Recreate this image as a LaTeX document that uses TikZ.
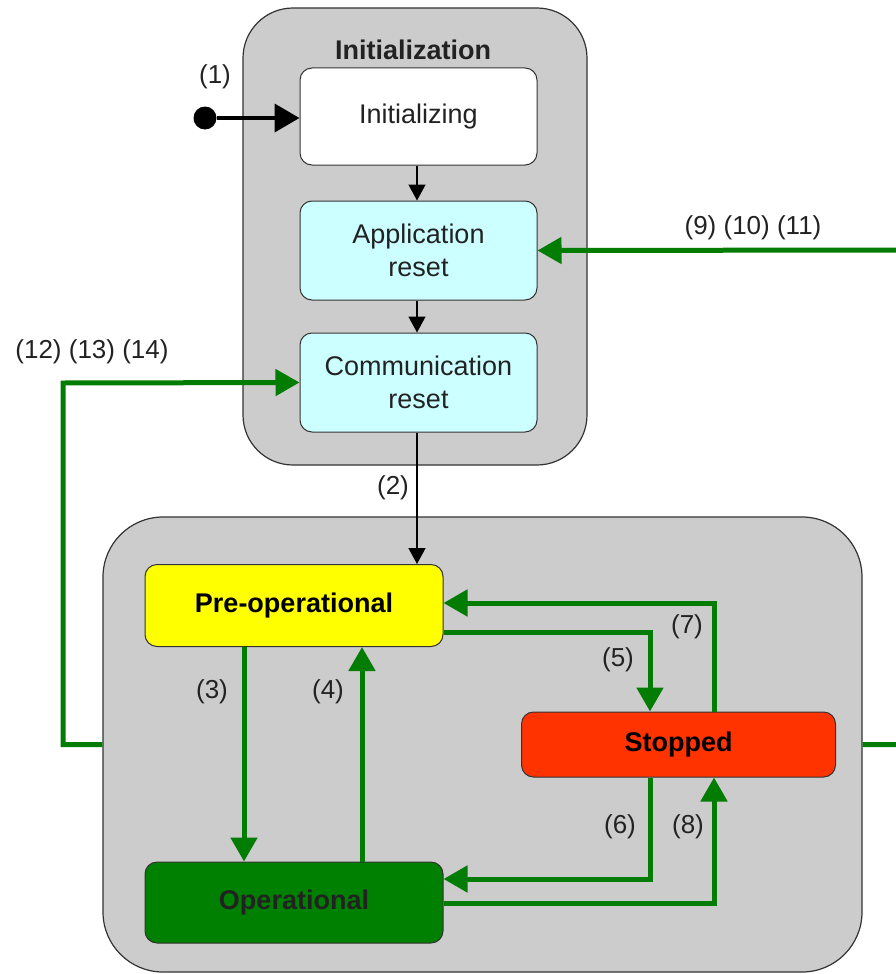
\documentclass[tikz,border=0pt]{standalone}
\usepackage{fontspec}
\setmainfont{Liberation Sans}
\usetikzlibrary{arrows.meta}
\definecolor{cgrey}{HTML}{CCCCCC}
\definecolor{cframe}{HTML}{333333}
\definecolor{ccyan}{HTML}{CCFFFF}
\definecolor{cyellow}{HTML}{FFFF00}
\definecolor{cgreenbox}{HTML}{008000}
\definecolor{cred}{HTML}{FF3300}
\definecolor{carrow}{HTML}{037C03}
\definecolor{ctext}{HTML}{222222}
\begin{document}
\begin{tikzpicture}[x=1pt,y=-1pt,
  container/.style={draw=cframe, line width=1.2pt, fill=cgrey, inner sep=0pt},
  statebox/.style={draw=cframe, line width=1pt, rounded corners=12pt, inner sep=0pt,
    minimum width=237pt, align=center, text=ctext, font=\fontsize{27}{33}\selectfont},
  modebox/.style={draw=cframe, line width=1pt, rounded corners=12pt, inner sep=0pt,
    text=black, font=\fontsize{27}{31}\selectfont\bfseries},
  lbl/.style={text=ctext, font=\fontsize{26}{30}\selectfont, inner sep=0pt},
  garrow/.style={draw=carrow, line width=5pt, -{Triangle[length=24pt,width=26pt]}},
  barrow/.style={draw=black, line width=1.5pt, -{Triangle[length=16pt,width=17pt]}}]
\useasboundingbox (0,0) rectangle (896,974);

% containers
\node[container, rounded corners=50pt, minimum width=344pt, minimum height=457pt] (init) at (415,236.5) {};
\node[container, rounded corners=60pt, minimum width=759pt, minimum height=455pt] (main) at (482.5,744.5) {};
\node[font=\fontsize{27}{31}\selectfont\bfseries, text=ctext, inner sep=0pt] (title) at (413,50) {Initialization};

% initialization states
\node[statebox, fill=white, minimum height=97pt] (initz) at (418.5,116.5) {Initializing};
\node[statebox, fill=ccyan, minimum height=99pt] (app) at (418.5,250.5) {Application\\reset};
\node[statebox, fill=ccyan, minimum height=99pt] (comm) at (418.5,382.5) {Communication\\reset};

% start
\node[circle, fill=black, inner sep=0pt, minimum size=23pt] (start) at (205,118) {};
\node[lbl] (l1) at (215,77) {(1)};
\draw[draw=black, line width=4pt, -{Triangle[length=25pt,width=28pt]}] (start) -- (initz.west |- start);

\draw[barrow] (initz.south -| 417,0) -- (app.north -| 417,0);
\draw[barrow] (app.south -| 417,0) -- (comm.north -| 417,0);

% operational states
\node[modebox, fill=cyellow, minimum width=298pt, minimum height=82pt] (preop) at (294,605.5) {Pre-operational};
\node[modebox, fill=cgreenbox, minimum width=298pt, minimum height=81pt, text=ctext] (oper) at (294,902.5) {Operational};
\node[modebox, fill=cred, minimum width=314pt, minimum height=65pt] (stop) at (678.5,744.5) {Stopped};

\draw[barrow] (comm.south -| 417,0) -- (preop.north -| 417,0);
\node[lbl] (l2) at (393,488) {(2)};

% transitions
\draw[garrow] (preop.south -| 244,0) -- (oper.north -| 244,0);
\node[lbl] (l3) at (212,692) {(3)};
\draw[garrow] (oper.north -| 362,0) -- (preop.south -| 362,0);
\node[lbl] (l4) at (328,692) {(4)};
\draw[garrow] (preop.east |- 0,632) -| (stop.north -| 650,0);
\node[lbl] (l5) at (618,660) {(5)};
\draw[garrow] (stop.north -| 714,0) |- (preop.east |- 0,603);
\node[lbl] (l7) at (687,627) {(7)};
\draw[garrow] (stop.south -| 650,0) |- (oper.east |- 0,879);
\node[lbl] (l6) at (620,827) {(6)};
\draw[garrow] (oper.east |- 0,903) -| (stop.south -| 714,0);
\node[lbl] (l8) at (688,827) {(8)};

% resets
\coordinate (lc) at (63,383);
\coordinate (rc) at (905,250);
\draw[garrow] (main.west) -| (lc) -- (comm.west);
\node[lbl] (l12) at (92,352) {(12) (13) (14)};
\draw[garrow] (main.east) -| (rc) -- (app.east);
\node[lbl] (l9) at (753,228) {(9) (10) (11)};
\end{tikzpicture}
\end{document}
